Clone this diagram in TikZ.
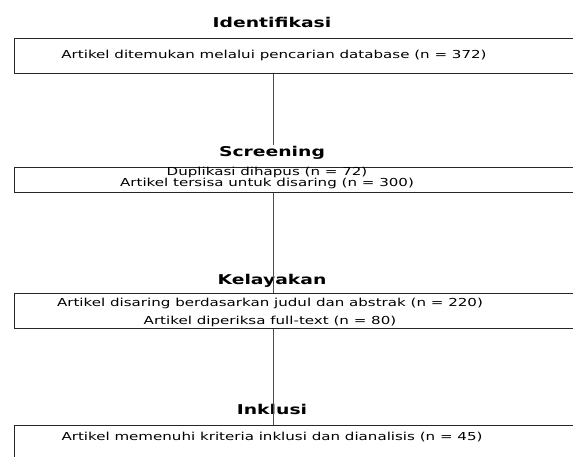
\documentclass[tikz,border=0pt]{standalone}
\usepackage{fontspec}
\setmainfont{DejaVu Sans}
\begin{document}
\begin{tikzpicture}[x=1pt,y=1pt,
  titlefont/.style={font=\bfseries\fontsize{13.5}{15}\selectfont, inner sep=1pt, xscale=1.39, transform shape},
  bodyfont/.style={font=\fontsize{11}{11}\selectfont, inner sep=1pt, align=center, xscale=1.37, transform shape},
  boxframe/.style={draw=black!85, line width=1.4pt, minimum width=586pt, anchor=north west, inner sep=0pt},
  link/.style={draw=black!70, line width=0.7pt}]
\useasboundingbox (0,0) rectangle (573,-456);
\clip (0,0) rectangle (573,-456);
% titles
\node[titlefont] (t1) at (272,-22) {Identifikasi};
\node[titlefont] (t2) at (272,-153) {Screening};
\node[titlefont] (t3) at (272,-281) {Kelayakan};
\node[titlefont] (t4) at (272,-409) {Inklusi};
% boxes
\node[boxframe, minimum height=35pt] (b1) at (14,-38) {};
\node[boxframe, minimum height=25pt, line width=0.9pt] (b2) at (14,-167) {};
\node[boxframe, minimum height=35pt, line width=0.9pt] (b3) at (14,-293) {};
\node[boxframe, minimum height=60pt] (b4) at (14,-425) {};
% texts
\node[bodyfont] (x1) at (274,-55) {Artikel ditemukan melalui pencarian database (n = 372)};
\node[bodyfont] (x2) at (267,-178) {Duplikasi dihapus (n = 72)\\[-0.5pt]Artikel tersisa untuk disaring (n = 300)};
\node[bodyfont] (x3) at (270,-312) {Artikel disaring berdasarkan judul dan abstrak (n = 220)\\[7pt]Artikel diperiksa full-text (n = 80)};
\node[bodyfont] (x4) at (272,-437) {Artikel memenuhi kriteria inklusi dan dianalisis (n = 45)};
% connectors
\draw[link] ([xshift=1pt]t1.center |- b1.south) -- ([xshift=1pt]t1.center |- t2.north);
\draw[link] ([xshift=1pt]t2.center |- b2.south) -- ([xshift=1pt]t2.center |- b3.north);
\draw[link] ([xshift=1pt]t3.center |- b3.south) -- ([xshift=1pt]t3.center |- b4.north);
\end{tikzpicture}
\end{document}
